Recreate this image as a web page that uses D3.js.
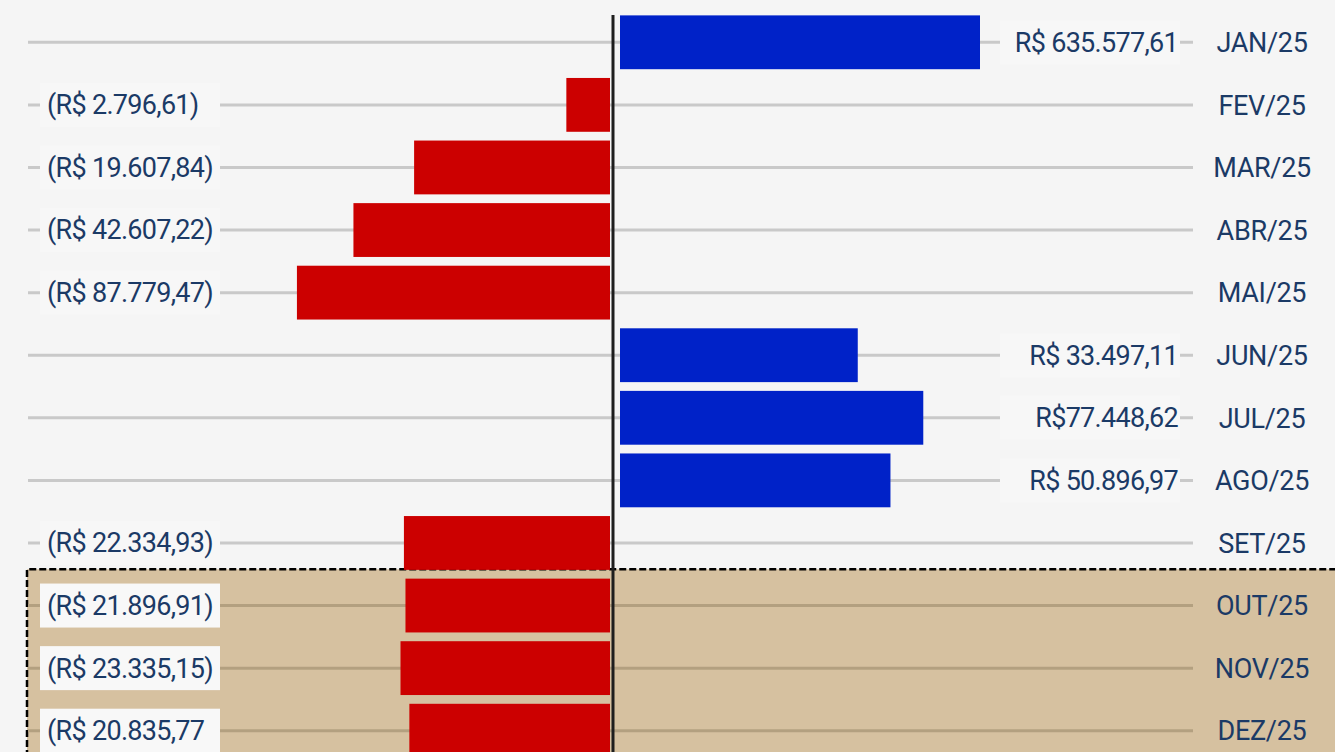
<!DOCTYPE html>
<html>
<head>
<meta charset="utf-8">
<script src="https://cdn.jsdelivr.net/npm/d3@7"></script>
<style>
  html, body { margin: 0; padding: 0; background: #f5f5f5; overflow: hidden; }
  svg { display: block; }
</style>
</head>
<body>
<svg id="chart"></svg>
<script>
// monthly result, 2025
var months = ["JAN/25", "FEV/25", "MAR/25", "ABR/25", "MAI/25", "JUN/25",
  "JUL/25", "AGO/25", "SET/25", "OUT/25", "NOV/25", "DEZ/25"];
var values = [635577.61, -2796.61, -19607.84, -42607.22, -87779.47, 33497.11,
  77448.62, 50896.97, -22334.93, -21896.91, -23335.15, -20835.77];
var valueLabels = ["R$ 635.577,61", "(R$ 2.796,61)", "(R$ 19.607,84)", "(R$ 42.607,22)",
  "(R$ 87.779,47)", "R$ 33.497,11", "R$77.448,62", "R$ 50.896,97", "(R$ 22.334,93)",
  "(R$ 21.896,91)", "(R$ 23.335,15)", "(R$ 20.835,77"];
// months inside the highlighted block
var highlighted = ["OUT/25", "NOV/25", "DEZ/25"];

var width = 1335, height = 752;
var zeroX = 613;
var textColor = "#1b3a66";
var font = "Roboto, 'Noto Sans', sans-serif";

var rows = months.map(function (m, i) {
  return { month: m, value: values[i], label: valueLabels[i] };
});

var svg = d3.select("#chart").attr("width", width).attr("height", height);

var y = d3.scaleBand().domain(months).range([11, 762])
  .paddingInner(0.14).paddingOuter(0.07);

// bar length by magnitude (log), clamped so the big month does not swamp the rest
var len = d3.scaleLog().domain([1600, 160000]).range([0, 360]).clamp(true);

function rowY(d) { return y(d.month) + y.bandwidth() / 2; }

// highlighted block
var hiTop = y(highlighted[0]) - (y.step() - y.bandwidth()) / 2 - 5;
svg.append("rect")
  .attr("x", 27).attr("y", hiTop)
  .attr("width", width - 27 + 5).attr("height", height - hiTop + 5)
  .attr("fill", "#d6c1a0");
svg.append("path")
  .attr("d", "M27," + (height + 5) + "V" + hiTop + "H" + (width + 5))
  .attr("fill", "none").attr("stroke", "#000").attr("stroke-width", 2.5)
  .attr("stroke-dasharray", "7,3");

// grid lines
svg.selectAll(".grid").data(rows).enter().append("line")
  .attr("class", "grid")
  .attr("x1", 28).attr("x2", 1193)
  .attr("y1", rowY).attr("y2", rowY)
  .attr("stroke", function (d) { return highlighted.indexOf(d.month) >= 0 ? "#b3a080" : "#c9c9c9"; })
  .attr("stroke-width", 3);

// label boxes
svg.selectAll(".lbox").data(rows).enter().append("rect")
  .attr("class", "lbox")
  .attr("x", function (d) { return d.value < 0 ? 40 : 1000; })
  .attr("y", function (d) { return rowY(d) - 22; })
  .attr("width", 180).attr("height", 44)
  .attr("fill", function (d) { return highlighted.indexOf(d.month) >= 0 ? "#f8f8f8" : "#f7f7f7"; });

// bars
svg.selectAll(".bar").data(rows).enter().append("rect")
  .attr("class", "bar")
  .attr("x", function (d) { return d.value < 0 ? 610 - len(-d.value) : 620; })
  .attr("y", function (d) { return y(d.month); })
  .attr("width", function (d) { return len(Math.abs(d.value)); })
  .attr("height", y.bandwidth())
  .attr("fill", function (d) { return d.value < 0 ? "#cc0000" : "#0022c8"; });

// zero line
svg.append("line")
  .attr("x1", zeroX).attr("x2", zeroX)
  .attr("y1", 15).attr("y2", height)
  .attr("stroke", "#1e1e1e").attr("stroke-width", 3);

// value labels
svg.selectAll(".vlabel").data(rows).enter().append("text")
  .attr("class", "vlabel")
  .attr("x", function (d) { return d.value < 0 ? 47 : 1178; })
  .attr("y", rowY)
  .attr("dy", "0.35em")
  .attr("text-anchor", function (d) { return d.value < 0 ? "start" : "end"; })
  .attr("font-family", font)
  .attr("font-size", 27)
  .attr("letter-spacing", -0.7)
  .attr("fill", textColor)
  .text(function (d) { return d.label; });

// month labels
svg.selectAll(".mlabel").data(rows).enter().append("text")
  .attr("class", "mlabel")
  .attr("x", 1262)
  .attr("y", rowY)
  .attr("dy", "0.36em")
  .attr("text-anchor", "middle")
  .attr("font-family", font)
  .attr("font-size", 27)
  .attr("letter-spacing", -0.3)
  .attr("fill", textColor)
  .text(function (d) { return d.month; });
</script>
</body>
</html>
